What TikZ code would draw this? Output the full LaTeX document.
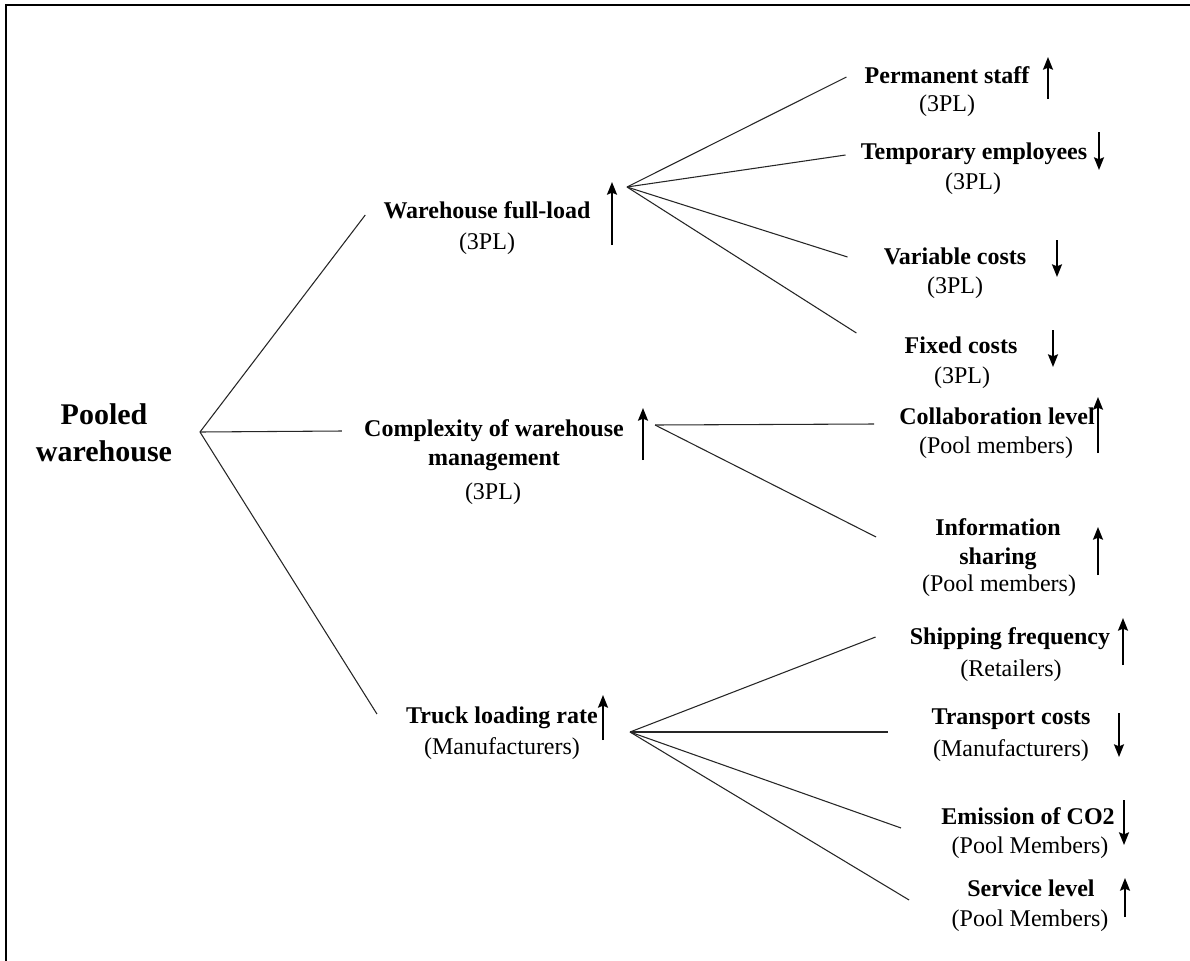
\documentclass[tikz,border=0pt]{standalone}
\usepackage{fontspec}
\setmainfont{Liberation Serif}
\usetikzlibrary{arrows.meta,calc}

\begin{document}
\begin{tikzpicture}[x=0.75pt,y=-0.75pt,
   rootbox/.style={inner sep=0pt,align=center,font=\fontsize{22.5}{28}\selectfont\bfseries},
   titlebox/.style={inner sep=0pt,text height=13pt,text depth=4pt,font=\fontsize{18}{22}\selectfont\bfseries},
   longbox/.style={inner sep=0pt,align=center,font=\fontsize{18}{22}\selectfont\bfseries},
   whobox/.style={inner sep=0pt,text height=13pt,text depth=4pt,font=\fontsize{18}{22}\selectfont},
   link/.style={line width=0.8pt,black!85},
   trend/.style={-{Stealth[length=9.5pt,width=7.5pt,inset=1.5pt]},line width=1.2pt}]
  \useasboundingbox (0,0) rectangle (1190,961);
  \draw[line width=0.8pt] (6,961) -- (6,5) -- (1190,5);

  % root and hubs
  \node[rootbox] (pool) at (104,433) {Pooled\\warehouse};
  \coordinate (h0) at (200,432);
  \coordinate (h1) at (627,187);
  \coordinate (h2) at (655,425);
  \coordinate (h3) at (630,732);

  % second level
  \node[titlebox] (wfl)  at (487,212) {Warehouse full-load};
  \node[whobox]   (wflw) at (487,243) {(3PL)};
  \node[longbox]  (cwm)  at (494,445) {Complexity of warehouse\\management};
  \node[whobox]   (cwmw) at (493,493) {(3PL)};
  \node[titlebox] (tlr)  at (502,717) {Truck loading rate};
  \node[whobox]   (tlrw) at (502,748) {(Manufacturers)};

  % third level
  \node[titlebox] (perm)  at (947,77)  {Permanent staff};
  \node[whobox]   (permw) at (947,105) {(3PL)};
  \node[titlebox] (temp)  at (974,153) {Temporary employees};
  \node[whobox]   (tempw) at (973,183) {(3PL)};
  \node[titlebox] (var)   at (955,258) {Variable costs};
  \node[whobox]   (varw)  at (955,287) {(3PL)};
  \node[titlebox] (fix)   at (961,347) {Fixed costs};
  \node[whobox]   (fixw)  at (962,377) {(3PL)};

  \node[titlebox] (col)   at (997,418) {Collaboration level};
  \node[whobox]   (colw)  at (996,447) {(Pool members)};
  \node[longbox]  (info)  at (998,544) {Information\\sharing};
  \node[whobox]   (infow) at (999,585) {(Pool members)};

  \node[titlebox] (ship)  at (1010,638) {Shipping frequency};
  \node[whobox]   (shipw) at (1011,670) {(Retailers)};
  \node[titlebox] (trans) at (1011,718) {Transport costs};
  \node[whobox]   (transw) at (1011,750) {(Manufacturers)};
  \node[titlebox] (emis)  at (1028,818) {Emission of CO2};
  \node[whobox]   (emisw) at (1030,847) {(Pool Members)};
  \node[titlebox] (serv)  at (1031,890) {Service level};
  \node[whobox]   (servw) at (1030,920) {(Pool Members)};

  % links
  \draw[link] (h0) -- ($(wfl.west)+(-18,3)$);
  \draw[link] (h0) -- ($(cwm.west)+(-22,-14)$);
  \draw[link] (h0) -- ($(tlr.west)+(-29,-3)$);

  \draw[link] (h1) -- ($(perm.west)+(-18,0)$);
  \draw[link] (h1) -- ($(temp.west)+(-15,2)$);
  \draw[link] (h1) -- ($(var.west)+(-36,-1)$);
  \draw[link] (h1) -- ($(fix.west)+(-48,-14)$);

  \draw[link] (h2) -- ($(col.west)+(-25,6)$);
  \draw[link] (h2) -- ($(info.west)+(-59,-7)$);

  \draw[link] (h3) -- ($(ship.west)+(-34,-1)$);
  \draw[link] (h3) -- ($(trans.west)+(-43,14)$);
  \draw[link] (h3) -- ($(emis.west)+(-40,10)$);
  \draw[link] (h3) -- ($(serv.west)+(-58,10)$);

  % up / down arrows
  \draw[trend] (612,245) -- (612,182);
  \draw[trend] (643,460) -- (643,408);
  \draw[trend] (603,740) -- (603,695);
  \draw[trend] (1048,99) -- (1048,57);
  \draw[trend] (1099,132) -- (1099,170);
  \draw[trend] (1057,240) -- (1057,277);
  \draw[trend] (1053,330) -- (1053,367);
  \draw[trend] (1098,453) -- (1098,397);
  \draw[trend] (1098,575) -- (1098,527);
  \draw[trend] (1123,665) -- (1123,618);
  \draw[trend] (1119,713) -- (1119,757);
  \draw[trend] (1124,800) -- (1124,845);
  \draw[trend] (1125,917) -- (1125,878);
\end{tikzpicture}
\end{document}
